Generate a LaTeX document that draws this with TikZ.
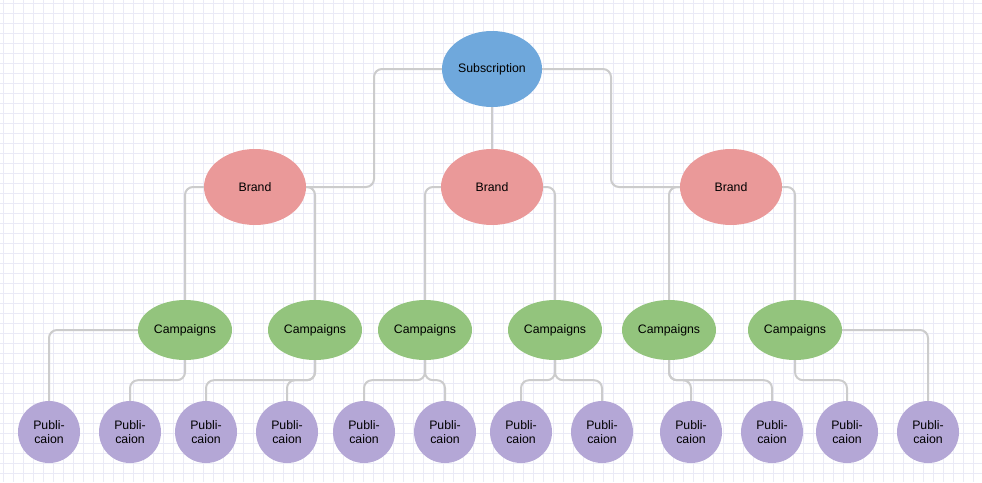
\documentclass[tikz,border=0pt]{standalone}
\usepackage{fontspec}
\setmainfont{Liberation Sans}
\usetikzlibrary{shapes.geometric, calc, backgrounds}

\definecolor{subblue}{HTML}{6FA8DC}
\definecolor{brandred}{HTML}{EA9999}
\definecolor{campgreen}{HTML}{93C47D}
\definecolor{publilav}{HTML}{B4A7D6}
\definecolor{linkgray}{HTML}{CCCCCC}
\definecolor{gridlav}{HTML}{EAEAF6}

\tikzset{
  bubble/.style={ellipse, inner sep=0pt, text=black,
    font=\fontsize{12.3}{13.5}\selectfont},
  subnode/.style={bubble, fill=subblue, minimum width=100pt, minimum height=76pt},
  brandnode/.style={bubble, fill=brandred, minimum width=102pt, minimum height=76pt},
  campnode/.style={bubble, fill=campgreen, minimum width=94pt, minimum height=60pt},
  pubnode/.style={circle, inner sep=0pt, fill=publilav, minimum size=62pt,
    align=center, text=black, font=\fontsize{12.3}{13.5}\selectfont},
  link/.style={draw=linkgray, line width=2pt, rounded corners=8pt},
  gridline/.style={draw=gridlav, line width=0.7pt}
}

\begin{document}
\begin{tikzpicture}[x=1pt, y=-1pt]
\useasboundingbox (0,0) rectangle (982,482);

% top level
\node[subnode] (sub) at (492,69) {Subscription};

% brands
\node[brandnode] (brandA) at (255,187) {Brand};
\node[brandnode] (brandB) at (492,187) {Brand};
\node[brandnode] (brandC) at (731,187) {Brand};

% campaigns
\foreach \x [count=\i] in {185,315,425,555,669,795}
  \node[campnode] (camp\i) at (\x,330) {Campaigns};

% publications
\foreach \x [count=\i] in {49,130,206,287,364,445,521,602,691,772,847,928}
  \node[pubnode] (pub\i) at (\x,432) {Publi-\\caion};

\begin{scope}[on background layer]
\fill[white] (0,0) rectangle (982,482);
\foreach \gx in {3,13,...,983} \draw[gridline] (\gx,0)--(\gx,482);
\foreach \gy in {3,13,...,483} \draw[gridline] (0,\gy)--(982,\gy);

% subscription -> brands
\draw[link] (sub.west) -| ($(sub.west)!0.5!(brandA.east)$) |- (brandA.east);
\draw[link] (sub.south)--(brandB.north);
\draw[link] (sub.east) -| ($(sub.east)!0.5!(brandC.west)$) |- (brandC.west);

% brands -> campaigns
\draw[link] (brandA.west) -| (camp1.north);
\draw[link] (brandA.east) -| (camp2.north);
\draw[link] (brandB.west) -| (camp3.north);
\draw[link] (brandB.east) -| (camp4.north);
\draw[link] (brandC.west) -| (camp5.north);
\draw[link] (brandC.east) -| (camp6.north);

% campaigns -> publications
\draw[link] (camp1.west) -| (pub1.north);
\draw[link] (camp1.south) -- ++(0,20) -| (pub2.north);
\draw[link] (camp2.south) -- ++(0,20) -| (pub3.north);
\draw[link] (camp2.south) -- ++(0,20) -| (pub4.north);
\draw[link] (camp3.south) -- ++(0,20) -| (pub5.north);
\draw[link] (camp3.south) -- ++(0,20) -| (pub6.north);
\draw[link] (camp4.south) -- ++(0,20) -| (pub7.north);
\draw[link] (camp4.south) -- ++(0,20) -| (pub8.north);
\draw[link] (camp5.south) -- ++(0,20) -| (pub9.north);
\draw[link] (camp5.south) -- ++(0,20) -| (pub10.north);
\draw[link] (camp6.south) -- ++(0,20) -| (pub11.north);
\draw[link] (camp6.east) -| (pub12.north);
\end{scope}
\end{tikzpicture}
\end{document}
